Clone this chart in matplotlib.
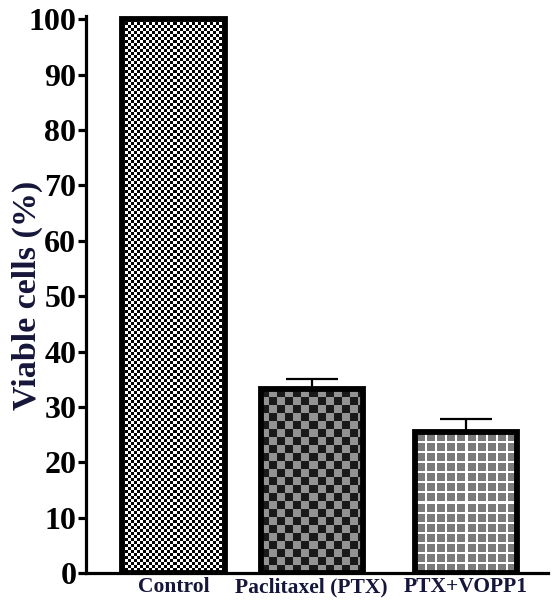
import numpy as np
import matplotlib
matplotlib.use("Agg")
import matplotlib.pyplot as plt

groups = ["Control", "Paclitaxel (PTX)", "PTX+VOPP1"]
viable = [100.0, 33.2, 25.5]
err_up = [0.0, 1.8, 2.4]
yticks = list(range(0, 101, 10))

xpos = [0, 0.945, 2]
navy = "#16163a"


def texture(kind, w, h):
    yy, xx = np.indices((h, w))
    img = np.ones((h, w, 3))
    if kind == "fine":
        on = ((xx // 3 + yy // 3) % 2) == 0
        img[on] = 0.0
        img[~on] = 1.0
    elif kind == "coarse":
        on = ((xx // 8 + yy // 8) % 2) == 0
        img[on] = 0.1
        img[~on] = 0.58
    else:
        grid = (xx % 10 < 2) | (yy % 10 < 2)
        img[:] = 0.48
        img[grid] = 1.0
    return img


plt.rcParams["font.family"] = ["Liberation Serif", "DejaVu Serif"]
plt.rcParams["font.weight"] = "bold"

fig = plt.figure(figsize=(5.52, 6.05), dpi=100)
ax = fig.add_axes([86 / 552, 32 / 605, (548 - 86) / 552, (573 - 16) / 605])
ax.set_xlim(-0.598, 2.56)
ax.set_ylim(0, 100.6)

bars = ax.bar(xpos, viable, width=0.70, facecolor="none", edgecolor="black",
              linewidth=4.2, zorder=3)

for bar, kind in zip(bars, ["fine", "coarse", "grid"]):
    ext = bar.get_window_extent()
    w = max(int(round(ext.width)), 1)
    h = max(int(round(ext.height)), 1)
    x0, y0 = bar.get_x(), bar.get_y()
    im = ax.imshow(texture(kind, w, h), extent=[x0, x0 + bar.get_width(), y0, y0 + bar.get_height()],
                   aspect="auto", interpolation="nearest", origin="upper", zorder=2)
    im.set_clip_path(bar)

for x, v, e in zip(xpos, viable, err_up):
    if e > 0:
        ax.errorbar(x, v, yerr=[[0], [e]], fmt="none", ecolor="black", elinewidth=1.6,
                    capsize=19, capthick=1.6, zorder=4)

ax.spines["top"].set_visible(False)
ax.spines["right"].set_visible(False)
ax.spines["left"].set_linewidth(2.3)
ax.spines["bottom"].set_linewidth(2.3)

ax.set_yticks(yticks)
ax.set_yticklabels([str(t) for t in yticks], fontsize=23, fontweight="bold")
ax.tick_params(axis="y", length=6, width=2.3, pad=1)
ax.set_xticks(xpos)
ax.set_xticklabels(groups, fontsize=15.5, fontweight="bold", color=navy)
ax.tick_params(axis="x", length=0, pad=3)
ax.set_ylabel("Viable cells (%)", fontsize=24.5, fontweight="bold", color=navy)
ax.yaxis.set_label_coords(-0.092, 0.5 - 0.2 / 100.6)

fig.savefig("out.png", dpi=100)
